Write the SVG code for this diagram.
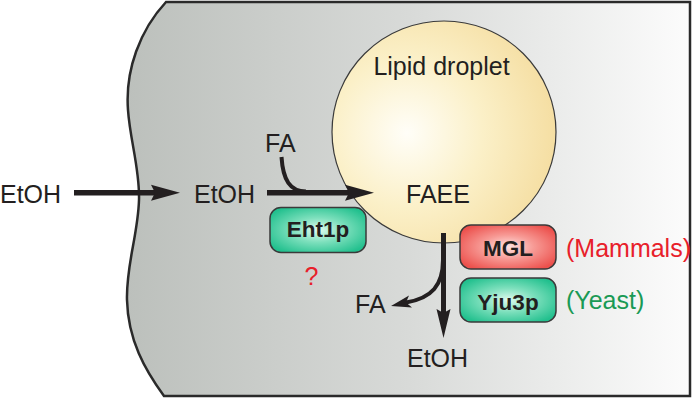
<svg xmlns="http://www.w3.org/2000/svg" width="693" height="400" viewBox="0 0 693 400">
<defs>
<linearGradient id="cellGrad" x1="0" y1="0" x2="1" y2="0">
<stop offset="0" stop-color="#bcc0bc"/>
<stop offset="0.5" stop-color="#d8dad8"/>
<stop offset="1" stop-color="#fcfcfc"/>
</linearGradient>
<radialGradient id="lipidGrad" cx="407" cy="133" r="150" gradientUnits="userSpaceOnUse">
<stop offset="0" stop-color="#fffef8"/>
<stop offset="0.5" stop-color="#fbf0c8"/>
<stop offset="1" stop-color="#f5dea2"/>
</radialGradient>
<radialGradient id="greenGrad" cx="0.5" cy="0.5" r="0.6">
<stop offset="0" stop-color="#e0fbef"/>
<stop offset="0.45" stop-color="#7ee0bd"/>
<stop offset="1" stop-color="#22c08e"/>
</radialGradient>
<radialGradient id="redGrad" cx="0.5" cy="0.5" r="0.6">
<stop offset="0" stop-color="#ffe4e2"/>
<stop offset="0.45" stop-color="#f79a95"/>
<stop offset="1" stop-color="#ec504c"/>
</radialGradient>
</defs>
<style>
.t{font-family:"Liberation Sans",Arial,sans-serif;font-size:25px;fill:#231f20}
.b{font-family:"Liberation Sans",Arial,sans-serif;font-size:22.5px;font-weight:bold;fill:#231f20;text-anchor:middle}
.box{stroke:#3a3a3a;stroke-width:1.5}
.ln{stroke:#231f20;fill:none}
.hd{fill:#231f20}
</style>
<g id="cell">
<path d="M 166 2 L 690 2 L 690 396 L 164 396 C 145 370 128 340 127 300 C 126 265 138 235 139 200 C 140 170 130 140 128 110 C 125 70 140 30 166 2 Z" fill="url(#cellGrad)" stroke="#2a2a2a" stroke-width="2.5"/>
</g>
<g id="lipid-droplet">
<ellipse cx="444" cy="132" rx="112" ry="111" fill="url(#lipidGrad)" stroke="#3a3a3a" stroke-width="1.2"/>
<text class="t" x="441.5" y="74.5" text-anchor="middle" font-size="26.5">Lipid droplet</text>
<text class="t" x="406" y="203">FAEE</text>
</g>
<g id="connectors">
<line class="ln" x1="74" y1="192.7" x2="155" y2="192.7" stroke-width="5.5"/>
<polygon class="hd" points="180,192.7 151,184.7 155,192.7 151,200.7"/>
<path class="ln" d="M 281.5 157 C 283 180 290 191.5 306 191.5" stroke-width="4"/>
<line class="ln" x1="267" y1="192.7" x2="350" y2="192.7" stroke-width="5.5"/>
<polygon class="hd" points="374,192.7 345,184.7 349,192.7 345,200.7"/>
<line class="ln" x1="443.5" y1="233" x2="443.5" y2="314" stroke-width="5"/>
<polygon class="hd" points="443.5,338 436.5,309 443.5,313 450.5,309"/>
<path class="ln" d="M 443 260 C 443 285 432 298 406 302.5" stroke-width="4"/>
<polygon class="hd" points="391,306 409,295.5 406,302.5 412,307.5"/>
</g>
<g id="etoh-outside"><text class="t" x="0" y="203">EtOH</text></g>
<g id="etoh-inside"><text class="t" x="194" y="203">EtOH</text></g>
<g id="fa-top"><text class="t" x="265" y="151.5">FA</text></g>
<g id="eht1p">
<rect class="box" x="270" y="207.5" width="96" height="45" rx="11" fill="url(#greenGrad)"/>
<text class="b" x="318" y="237">Eht1p</text>
<text class="t" x="311.5" y="285" text-anchor="middle" font-size="30" style="fill:#e8202a">?</text>
</g>
<g id="mgl">
<rect class="box" x="460" y="225" width="96" height="44" rx="11" fill="url(#redGrad)"/>
<text class="b" x="508" y="256">MGL</text>
<text class="t" x="566" y="257" font-size="22" style="fill:#e8202a">(Mammals)</text>
</g>
<g id="yju3p">
<rect class="box" x="460" y="278" width="96" height="44" rx="11" fill="url(#greenGrad)"/>
<text class="b" x="508" y="310">Yju3p</text>
<text class="t" x="566" y="308.5" font-size="22" style="fill:#1a9a55">(Yeast)</text>
</g>
<g id="fa-bottom"><text class="t" x="355" y="313">FA</text></g>
<g id="etoh-bottom"><text class="t" x="407" y="367">EtOH</text></g>
</svg>
